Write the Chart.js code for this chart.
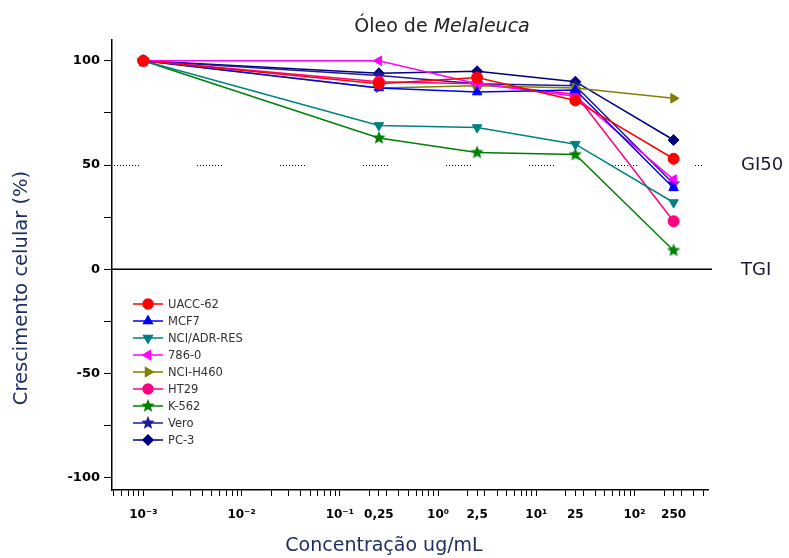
<!DOCTYPE html>
<html>
<head>
<meta charset="utf-8">
<script src="https://cdn.jsdelivr.net/npm/chart.js"></script>
<style>
  html, body { margin: 0; padding: 0; background: #fff; }
  #wrap { width: 789px; height: 558px; }
</style>
</head>
<body>
<div id="wrap"><canvas id="chart" width="789" height="558"></canvas></div>
<script>
// concentrations (ug/mL); the control is plotted at 10^-3
const concentrations = [0.001, 0.25, 2.5, 25, 250];

const cellLines = ['UACC-62', 'MCF7', 'NCI/ADR-RES', '786-0', 'NCI-H460', 'HT29', 'K-562', 'Vero', 'PC-3'];

const uacc62   = [100, 89, 92, 81, 53];
const mcf7     = [100, 87, 85, 86, 39];
const nciAdr   = [100, 69, 68, 60, 32];
const c7860    = [100, 100, 89, 83, 43];
const nciH460  = [100, 87, 88, 87, 82];
const ht29     = [100, 90, 89, 84, 23];
const k562     = [100, 63, 56, 55, 9];
const vero     = [100, 93, 89, 88, 41];
const pc3      = [100, 94, 95, 90, 62];

const decadeTicks  = [0.001, 0.01, 0.1, 1, 10, 100];
const decadeLabels = ['10\u207B\u00B3', '10\u207B\u00B2', '10\u207B\u00B9', '10\u2070', '10\u00B9', '10\u00B2'];
const concLabels   = ['0,25', '2,5', '25', '250'];

const yTicks  = [-100, -75, -50, -25, 0, 25, 50, 75, 100];
const gi50 = 50;
const tgi = 0;

const xMin = 0.00048, xMax = 560;

// ---- markers ----
function starCanvas(color, r) {
  const c = document.createElement('canvas');
  c.width = c.height = r * 2 + 2;
  const g = c.getContext('2d');
  g.fillStyle = color;
  g.beginPath();
  for (let i = 0; i < 10; i++) {
    const a = -Math.PI / 2 + i * Math.PI / 5;
    const rr = i % 2 ? r * 0.45 : r;
    g.lineTo(r + 1 + rr * Math.cos(a), r + 1 + rr * Math.sin(a));
  }
  g.closePath();
  g.fill();
  return c;
}

const styles = [
  { color: '#ff0000', point: 'circle', rot: 0 },
  { color: '#0000ff', point: 'triangle', rot: 0 },
  { color: '#008080', point: 'triangle', rot: 180 },
  { color: '#ff00ff', point: 'triangle', rot: -90 },
  { color: '#808000', point: 'triangle', rot: 90 },
  { color: '#ff0080', point: 'circle', rot: 0 },
  { color: '#008000', point: starCanvas('#008000', 7), rot: 0 },
  { color: '#1c1c9c', point: starCanvas('#1c1c9c', 7), rot: 0 },
  { color: '#000080', point: 'rectRot', rot: 0 }
];

const series = [uacc62, mcf7, nciAdr, c7860, nciH460, ht29, k562, vero, pc3];

const datasets = series.map((vals, i) => ({
  label: cellLines[i],
  data: vals.map((v, j) => ({ x: concentrations[j], y: v })),
  borderColor: styles[i].color,
  backgroundColor: styles[i].color,
  borderWidth: 1.5,
  pointStyle: styles[i].point,
  pointRotation: styles[i].rot,
  pointRadius: 5.5,
  pointBorderWidth: 1,
  tension: 0,
  fill: false
}));

// x ticks: decades, minor steps, and the tested concentrations
const xTickValues = [];
for (let k = -4; k <= 2; k++) {
  for (let n = 1; n <= 9; n++) {
    const v = n * Math.pow(10, k);
    if (v >= xMin && v <= xMax) xTickValues.push(v);
  }
}
concentrations.slice(1).forEach(v => xTickValues.push(v));
xTickValues.sort((a, b) => a - b);

function xLabel(v) {
  for (let i = 0; i < decadeTicks.length; i++) {
    if (Math.abs(v / decadeTicks[i] - 1) < 1e-6) return decadeLabels[i];
  }
  for (let i = 1; i < concentrations.length; i++) {
    if (Math.abs(v / concentrations[i] - 1) < 1e-6) return concLabels[i - 1];
  }
  return '';
}

const refLines = {
  id: 'refLines',
  beforeDatasetsDraw(chart) {
    const { ctx, chartArea, scales } = chart;
    const yg = scales.y.getPixelForValue(gi50);
    const yt = scales.y.getPixelForValue(tgi);
    ctx.save();
    // TGI line
    ctx.strokeStyle = '#000';
    ctx.lineWidth = 1.5;
    ctx.beginPath();
    ctx.moveTo(chartArea.left, yt);
    ctx.lineTo(chartArea.right + 4, yt);
    ctx.stroke();
    // GI50 dotted line
    const dash = [];
    for (let i = 0; i < 9; i++) dash.push(1, 2);
    dash[dash.length - 1] = 58;
    ctx.setLineDash(dash);
    ctx.lineWidth = 1;
    ctx.beginPath();
    ctx.moveTo(chartArea.left + 2, yg + 0.5);
    ctx.lineTo(chartArea.right - 5, yg + 0.5);
    ctx.stroke();
    ctx.restore();
  },
  afterDraw(chart) {
    const { ctx, chartArea, scales } = chart;
    ctx.save();
    ctx.fillStyle = '#1a1a33';
    ctx.font = '18px "DejaVu Sans"';
    ctx.textBaseline = 'middle';
    ctx.textAlign = 'left';
    ctx.fillText('GI50', chartArea.right + 33, scales.y.getPixelForValue(gi50));
    ctx.fillText('TGI', chartArea.right + 33, scales.y.getPixelForValue(tgi) + 1);

    // title with italic species name
    const a = 'Óleo de ', b = 'Melaleuca';
    ctx.font = '19px "DejaVu Sans"';
    const wa = ctx.measureText(a).width;
    ctx.font = 'italic 19px "DejaVu Sans"';
    const wb = ctx.measureText(b).width;
    const x0 = 442 - (wa + wb) / 2;
    ctx.fillStyle = '#222';
    ctx.font = '19px "DejaVu Sans"';
    ctx.fillText(a, x0, 27);
    ctx.font = 'italic 19px "DejaVu Sans"';
    ctx.fillText(b, x0 + wa, 27);

    // axis titles
    ctx.fillStyle = '#1f2f66';
    ctx.textAlign = 'center';
    ctx.font = '19px "DejaVu Sans"';
    ctx.fillText('Concentração ug/mL', 384, 546);
    ctx.translate(22, 288);
    ctx.rotate(-Math.PI / 2);
    ctx.font = '19.5px "DejaVu Sans"';
    ctx.fillText('Crescimento celular (%)', 0, 0);
    ctx.setTransform(1, 0, 0, 1, 0, 0);
    ctx.textAlign = 'left';

    // legend inside the plot
    const lx = chartArea.left + 21, ty = 304, step = 17;
    chart.data.datasets.forEach((ds, i) => {
      const y = ty + i * step;
      ctx.strokeStyle = ds.borderColor;
      ctx.fillStyle = ds.backgroundColor;
      ctx.lineWidth = 1.5;
      ctx.beginPath();
      ctx.moveTo(lx, y);
      ctx.lineTo(lx + 30, y);
      ctx.stroke();
      Chart.helpers.drawPoint(ctx, {
        pointStyle: ds.pointStyle, rotation: ds.pointRotation,
        radius: 5, borderWidth: 1
      }, lx + 15, y);
      ctx.fillStyle = '#333';
      ctx.font = '11.5px "DejaVu Sans"';
      ctx.fillText(ds.label, lx + 35, y + 1);
    });
    ctx.restore();
  }
};

new Chart(document.getElementById('chart'), {
  type: 'line',
  data: { datasets },
  options: {
    responsive: false,
    animation: false,
    devicePixelRatio: 1,
    layout: { padding: { top: 40, right: 81, left: 0, bottom: 0 } },
    plugins: {
      legend: { display: false },
      title: { display: false },
      tooltip: { enabled: false }
    },
    scales: {
      x: {
        type: 'logarithmic',
        min: xMin,
        max: xMax,
        afterBuildTicks(axis) { axis.ticks = xTickValues.map(v => ({ value: v })); },
        afterFit(axis) { axis.height = 68; },
        border: { display: true, color: '#000', width: 1.5 },
        grid: { drawOnChartArea: false, tickLength: 6, tickColor: '#000' },
        ticks: {
          autoSkip: false, maxRotation: 0, minRotation: 0, padding: 12,
          color: '#000', font: { family: 'DejaVu Sans', size: 12, weight: 'bold' },
          callback: (v) => xLabel(v)
        }
      },
      y: {
        min: -106,
        max: 110,
        afterBuildTicks(axis) { axis.ticks = yTicks.map(v => ({ value: v })); },
        afterFit(axis) { axis.width = 112; },
        border: { display: true, color: '#000', width: 1.5 },
        grid: { drawOnChartArea: false, tickLength: 8, tickColor: '#000' },
        ticks: {
          autoSkip: false, padding: 4, color: '#000',
          font: { family: 'DejaVu Sans', size: 13, weight: 'bold' },
          callback: (v) => (v % 50 === 0 ? String(v) : '')
        }
      }
    }
  },
  plugins: [refLines]
});
</script>
</body>
</html>
